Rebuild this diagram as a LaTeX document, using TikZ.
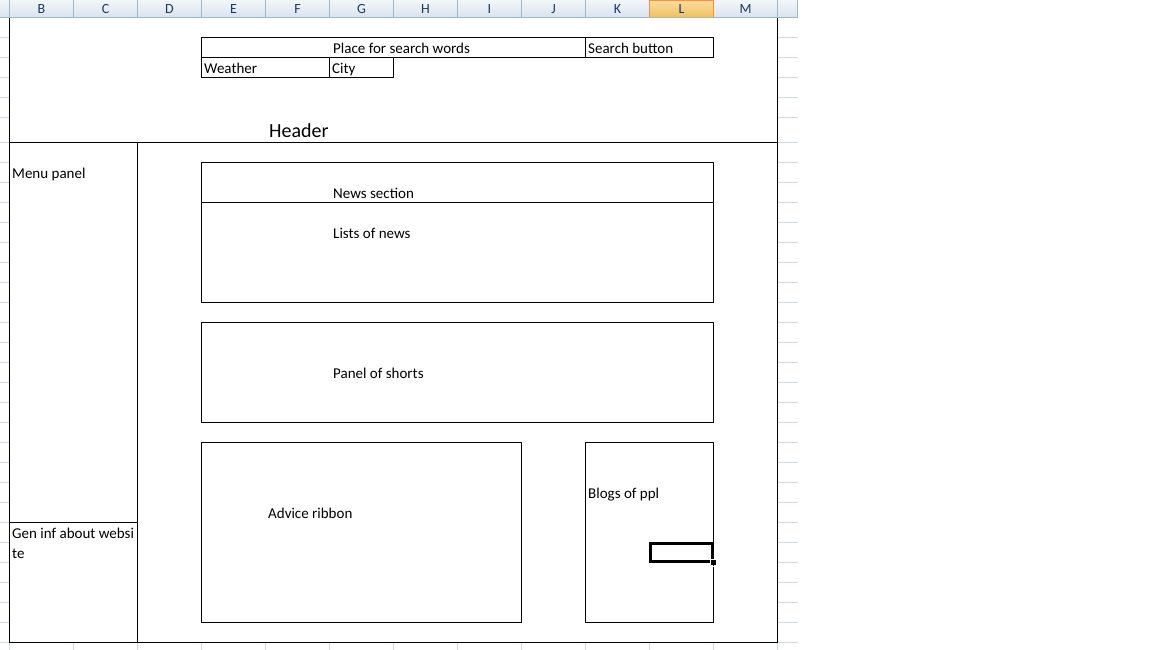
\documentclass[tikz,border=0pt]{standalone}
\usepackage{fontspec}
\setmainfont{Carlito}
\definecolor{grid}{HTML}{D0D7E5}
\definecolor{hdrsep}{HTML}{9EB6CE}
\definecolor{hdrtop}{HTML}{F2F6FB}
\definecolor{hdrbot}{HTML}{DAE3EF}
\definecolor{hdrtxt}{HTML}{1E395B}
\definecolor{seltop}{HTML}{F9DCA3}
\definecolor{selbot}{HTML}{F1C15F}
\definecolor{selbrd}{HTML}{F29536}
\tikzset{
  cell/.style={anchor=base west, inner sep=0pt, font=\fontsize{15}{18}\selectfont, text=black},
  bigcell/.style={anchor=base west, inner sep=0pt, font=\fontsize{20}{24}\selectfont, text=black},
  colhdr/.style={anchor=center, inner sep=0pt, font=\fontsize{14}{16}\selectfont, text=hdrtxt},
  frame/.style={draw=black, line width=1pt},
  gridl/.style={draw=grid, line width=1pt},
}
\begin{document}
\begin{tikzpicture}[x=1pt,y=-1pt]
\useasboundingbox (0,0) rectangle (1152,649);
\fill[white] (0,0) rectangle (1152,649);
\begin{scope}[shift={(0.5,0.5)}]
% column header bar
\shade[top color=hdrtop, bottom color=hdrbot] (-0.5,-0.5) rectangle (796.5,16.5);
\shade[top color=seltop, bottom color=selbot] (649,-0.5) rectangle (713,16.5);
\foreach \x in {9,73,...,777,797} \draw[hdrsep] (\x,-0.5) -- (\x,16.5);
\draw[selbrd] (649,-0.5) rectangle (713,16.5);
\draw[hdrsep] (-0.5,17) -- (797,17);
\foreach \l [count=\i from 0] in {B,C,D,E,F,G,H,I,J,K,L,M}
  \node[colhdr] (col\l) at (41+64*\i,8.5) {\l};
% gridline stubs outside the frame
\foreach \y in {37,57,77,97,117,142,162,...,642} {
  \draw[gridl] (-0.5,\y) -- (9,\y);
  \draw[gridl] (777,\y) -- (797,\y);
}
\foreach \x in {9,73,...,777} \draw[gridl] (\x,642) -- (\x,649);
% outer frame
\draw[frame] (9,17) -- (9,642) -- (777,642) -- (777,17);
\draw[frame] (9,142) -- (777,142);
\draw[frame] (137,142) -- (137,642);
\draw[frame] (9,522) -- (137,522);
% search row
\draw[frame] (201,37) rectangle (713,57);
\draw[frame] (585,37) -- (585,57);
\draw[frame] (201,57) rectangle (393,77);
\draw[frame] (329,57) -- (329,77);
% content boxes
\draw[frame] (201,162) rectangle (713,302);
\draw[frame] (201,202) -- (713,202);
\draw[frame] (201,322) rectangle (713,422);
\draw[frame] (201,442) rectangle (521,622);
\draw[frame] (585,442) rectangle (713,622);
% selected cell
\draw[black, line width=3pt] (650,543) rectangle (712,561);
\draw[white, line width=1pt] (713.5,540) -- (713.5,558);
\draw[black, line width=1pt] (713,540) -- (713,622);
\draw[white, line width=0.8pt] (709.5,558.5) rectangle (716.5,565.5);
\fill[black] (710.5,559.5) rectangle (715.5,564.5);
\end{scope}
% texts
\node[cell] (search) at (333,53) {Place for search words};
\node[cell] (searchbtn) at (588,53) {Search button};
\node[cell] (weather) at (204,73) {Weather};
\node[cell] (city) at (332,73) {City};
\node[bigcell] (header) at (269,137.5) {Header};
\node[cell] (menu) at (12,178) {Menu panel};
\node[cell] (news) at (333,198) {News section};
\node[cell] (lists) at (333,238) {Lists of news};
\node[cell] (shorts) at (333,378) {Panel of shorts};
\node[cell] (blogs) at (588,498) {Blogs of ppl};
\node[cell] (advice) at (268,518) {Advice ribbon};
\node[cell] (gena) at (12,538) {Gen inf about websi};
\node[cell] (genb) at (12,558) {te};
\end{tikzpicture}
\end{document}
